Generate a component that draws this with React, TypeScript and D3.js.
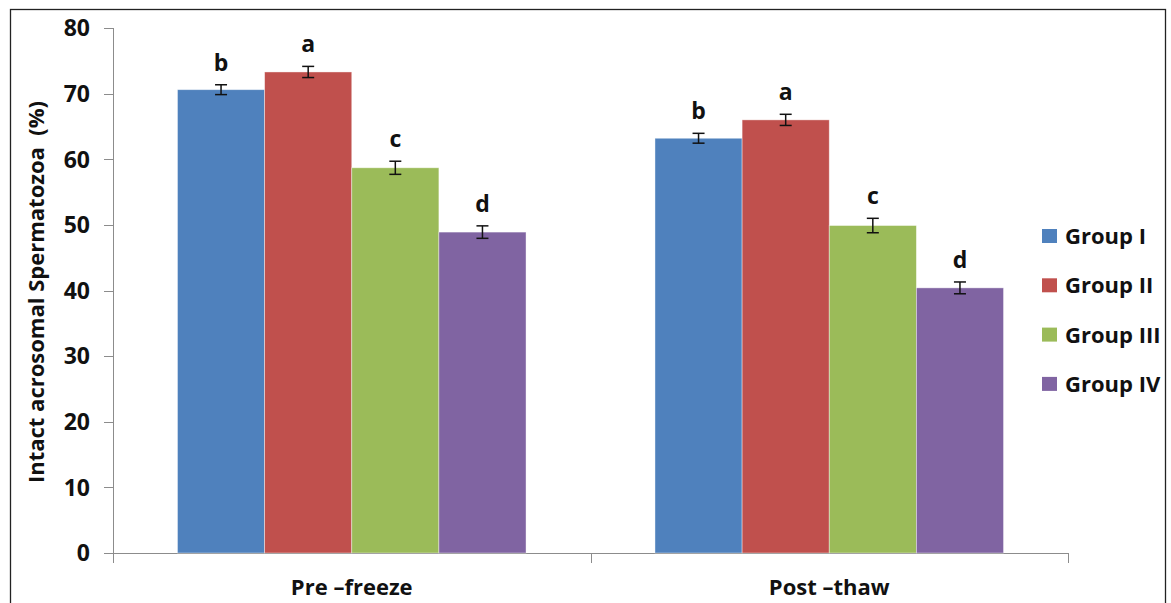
import React, { useEffect, useRef } from "react";
import * as d3 from "d3";

const categories = ["Pre \u2013freeze", "Post \u2013thaw"];
const groups = ["Group I", "Group II", "Group III", "Group IV"];
const colors = ["#4F81BD", "#C0504D", "#9BBB59", "#8064A2"];
// values per group, one entry per category
const groupI = [70.6, 63.2];
const groupII = [73.3, 66.0];
const groupIII = [58.7, 49.9];
const groupIV = [48.9, 40.4];
const errI = [0.75, 0.75];
const errII = [0.85, 0.85];
const errIII = [1.0, 1.1];
const errIV = [0.95, 0.9];
const lettersI = ["b", "b"];
const lettersII = ["a", "a"];
const lettersIII = ["c", "c"];
const lettersIV = ["d", "d"];
const yTicks = [0, 10, 20, 30, 40, 50, 60, 70, 80];

const FONT = "'Open Sans', 'Liberation Sans', sans-serif";

const App = () => {
  const ref = useRef<SVGSVGElement>(null);

  useEffect(() => {
    const values = [groupI, groupII, groupIII, groupIV];
    const errs = [errI, errII, errIII, errIV];
    const letters = [lettersI, lettersII, lettersIII, lettersIV];

    const svg = d3.select(ref.current);
    svg.selectAll("*").remove();

    const x0 = d3.scaleBand().domain(categories).range([113, 1068]);
    const x1 = d3
      .scaleBand()
      .domain(groups)
      .range([0, x0.bandwidth()])
      .paddingInner(0)
      .paddingOuter(0.74);
    const y = d3.scaleLinear().domain([0, 80]).range([553, 28]);

    // outer frame
    svg
      .append("rect")
      .attr("x", 10.5)
      .attr("y", 9.5)
      .attr("width", 1155)
      .attr("height", 620)
      .attr("fill", "white")
      .attr("stroke", "#222")
      .attr("stroke-width", 1.3);

    // y axis
    const yAxis = svg.append("g").attr("transform", "translate(113,0)");
    yAxis
      .append("line")
      .attr("x1", 0.5)
      .attr("x2", 0.5)
      .attr("y1", y(80))
      .attr("y2", y(0) + 10)
      .attr("stroke", "#8c8c8c");
    yAxis
      .selectAll("line.tick")
      .data(yTicks)
      .join("line")
      .attr("class", "tick")
      .attr("x1", -9)
      .attr("x2", 0.5)
      .attr("y1", (d) => Math.round(y(d)) + 0.5)
      .attr("y2", (d) => Math.round(y(d)) + 0.5)
      .attr("stroke", "#8c8c8c");
    yAxis
      .selectAll("text")
      .data(yTicks)
      .join("text")
      .attr("x", -23)
      .attr("y", (d) => y(d))
      .attr("dy", "0.36em")
      .attr("text-anchor", "end")
      .attr("font-family", FONT)
      .attr("font-weight", "bold")
      .attr("font-size", 23)
      .attr("fill", "#111")
      .text((d) => d);

    // x axis
    svg
      .append("line")
      .attr("x1", 113)
      .attr("x2", 1068)
      .attr("y1", Math.round(y(0)) + 0.5)
      .attr("y2", Math.round(y(0)) + 0.5)
      .attr("stroke", "#8c8c8c");
    const xTickPos = [113, ...categories.map((c) => (x0(c) as number) + x0.bandwidth())];
    svg
      .selectAll("line.xtick")
      .data(xTickPos)
      .join("line")
      .attr("class", "xtick")
      .attr("x1", (d) => Math.round(d) + 0.5)
      .attr("x2", (d) => Math.round(d) + 0.5)
      .attr("y1", y(0))
      .attr("y2", y(0) + 10)
      .attr("stroke", "#8c8c8c");
    svg
      .selectAll("text.cat")
      .data(categories)
      .join("text")
      .attr("class", "cat")
      .attr("x", (d) => (x0(d) as number) + x0.bandwidth() / 2)
      .attr("y", 595)
      .attr("text-anchor", "middle")
      .attr("font-family", FONT)
      .attr("font-weight", "bold")
      .attr("font-size", 22)
      .attr("fill", "#111")
      .text((d) => d);

    // bars
    groups.forEach((g, gi) => {
      const layer = svg.append("g");
      categories.forEach((c, ci) => {
        const v = values[gi][ci];
        const e = errs[gi][ci];
        const bx = (x0(c) as number) + (x1(g) as number);
        const cx = bx + x1.bandwidth() / 2;
        layer
          .append("rect")
          .attr("x", bx)
          .attr("y", y(v))
          .attr("width", x1.bandwidth())
          .attr("height", y(0) - y(v))
          .attr("fill", colors[gi])
          .attr("stroke", "rgba(255,255,255,0.5)")
          .attr("stroke-width", 0.8);
        const eb = layer.append("g").attr("stroke", "#111").attr("stroke-width", 1.5);
        eb.append("line").attr("x1", cx).attr("x2", cx).attr("y1", y(v + e)).attr("y2", y(v - e));
        eb.append("line").attr("x1", cx - 6).attr("x2", cx + 6).attr("y1", y(v + e)).attr("y2", y(v + e));
        eb.append("line").attr("x1", cx - 6).attr("x2", cx + 6).attr("y1", y(v - e)).attr("y2", y(v - e));
        layer
          .append("text")
          .attr("x", cx)
          .attr("y", y(v + e) - 14)
          .attr("text-anchor", "middle")
          .attr("font-family", FONT)
          .attr("font-weight", "bold")
          .attr("font-size", 23)
          .attr("fill", "#111")
          .text(letters[gi][ci]);
      });
    });

    // y label
    svg
      .append("text")
      .attr("transform", "translate(44,292) rotate(-90)")
      .attr("text-anchor", "middle")
      .attr("font-family", FONT)
      .attr("font-weight", "bold")
      .attr("font-size", 22)
      .attr("fill", "#111")
      .attr("xml:space", "preserve")
      .text("Intact acrosomal Spermatozoa  (%)");

    // legend
    const legend = svg
      .append("g")
      .selectAll("g")
      .data(groups)
      .join("g")
      .attr("transform", (d, i) => `translate(1042,${236 + i * 49.3})`);
    legend
      .append("rect")
      .attr("x", 0)
      .attr("y", -7)
      .attr("width", 15)
      .attr("height", 14)
      .attr("fill", (d, i) => colors[i]);
    legend
      .append("text")
      .attr("x", 23)
      .attr("y", 0)
      .attr("dy", "0.36em")
      .attr("font-family", FONT)
      .attr("font-weight", "bold")
      .attr("font-size", 22)
      .attr("fill", "#111")
      .text((d) => d);
  }, []);

  return (
    <svg
      ref={ref}
      width={1171}
      height={603}
      style={{ position: "absolute", left: 0, top: 0, background: "white" }}
    ></svg>
  );
};

export default App;
